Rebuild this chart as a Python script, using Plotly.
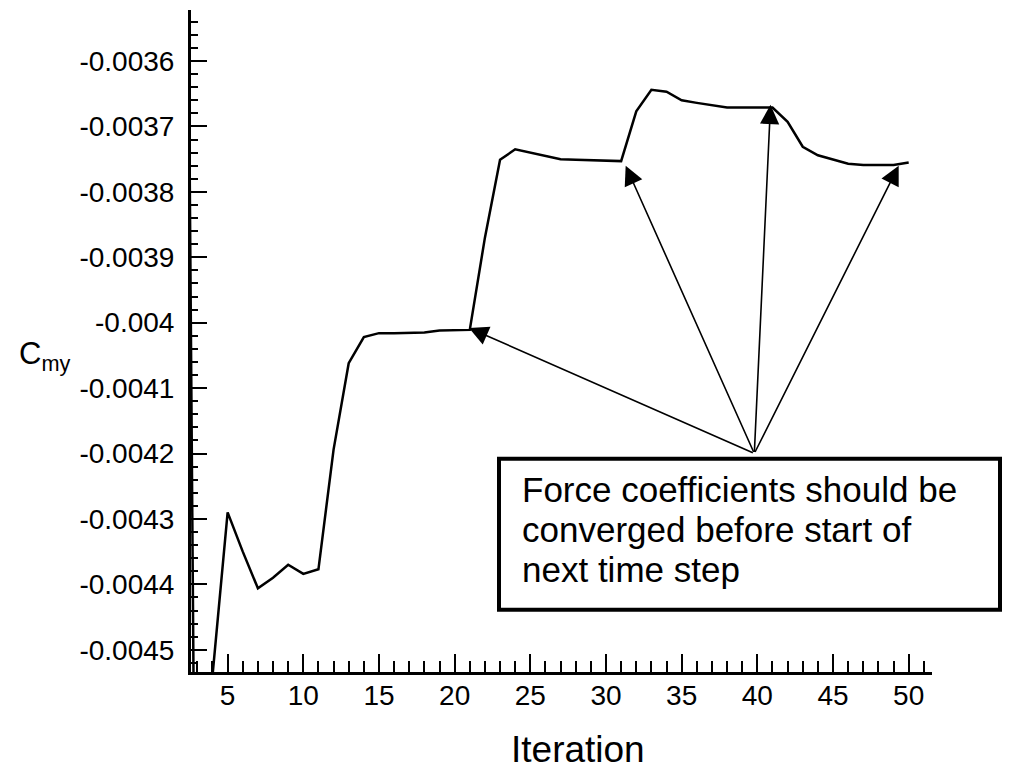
import plotly.graph_objects as go

# ---------------- data ----------------
iterations = list(range(2, 51))
cmy = [
    -0.00225, -0.00532, -0.00454, -0.00429, -0.00435, -0.004406, -0.00439, -0.00437,
    -0.004384, -0.004377, -0.004194, -0.004062, -0.004022, -0.004016, -0.004016,
    -0.004016, -0.004015, -0.004012, -0.004012, -0.004011, -0.00387, -0.003751,
    -0.003735, -0.00374, -0.003746, -0.00375, -0.003751, -0.003752, -0.003753,
    -0.003753, -0.003677, -0.003644, -0.003647, -0.00366, -0.003664, -0.003668,
    -0.003671, -0.003671, -0.003671, -0.003671, -0.003693, -0.003731, -0.003744,
    -0.003751, -0.003757, -0.003759, -0.003759, -0.003759, -0.003755,
]

x_tick_vals = [5, 10, 15, 20, 25, 30, 35, 40, 45, 50]
x_tick_text = ["5", "10", "15", "20", "25", "30", "35", "40", "45", "50"]
y_tick_vals = [-0.0036, -0.0037, -0.0038, -0.0039, -0.004, -0.0041,
               -0.0042, -0.0043, -0.0044, -0.0045]
y_tick_text = ["-0.0036", "-0.0037", "-0.0038", "-0.0039", "-0.004", "-0.0041",
               "-0.0042", "-0.0043", "-0.0044", "-0.0045"]

# arrows: common origin and the four converged points they point to
arrow_origin = (39.8, -0.0042)
arrow_tips_x = [20.95, 31.3, 40.87, 49.34]
arrow_tips_y = [-0.004008, -0.00376, -0.003667, -0.00376]

note_lines = ["Force coefficients should be",
              "converged before start of",
              "next time step"]

# ---------------- layout helpers ----------------
W, H = 1010, 770
ML, MR, MT, MB = 191, 78, 10, 98
PW, PH = W - ML - MR, H - MT - MB


def px_x(p):
    return (p - ML) / PW


def px_y(p):
    return (H - MB - p) / PH


FONT = "Liberation Sans, Arial, sans-serif"

fig = go.Figure()
fig.add_trace(go.Scatter(
    x=iterations, y=cmy, mode="lines",
    line=dict(color="black", width=2.5),
    showlegend=False, hoverinfo="skip",
))

axis_common = dict(
    showgrid=False, zeroline=False, showline=True, linecolor="black",
    linewidth=3, ticks="inside", tickcolor="black", mirror=False,
    tickfont=dict(family=FONT, size=28, color="black"),
)

fig.update_xaxes(
    range=[2.58, 51.54], tickmode="array", tickvals=x_tick_vals,
    ticktext=x_tick_text, ticklen=18, tickwidth=2, ticklabelstandoff=-4,
    minor=dict(ticks="inside", dtick=1, tick0=0, ticklen=11, tickwidth=1.5,
               tickcolor="black"),
    **axis_common,
)
fig.update_yaxes(
    range=[-0.004534, -0.003522], tickmode="array", tickvals=y_tick_vals,
    ticktext=y_tick_text, ticklen=16, tickwidth=2, ticklabelstandoff=8,
    minor=dict(ticks="inside", dtick=0.00002, tick0=-0.0036, ticklen=7,
               tickwidth=1.5, tickcolor="black"),
    **axis_common,
)

annotations = []
for tx, ty in zip(arrow_tips_x, arrow_tips_y):
    annotations.append(dict(
        x=tx, y=ty, xref="x", yref="y",
        ax=arrow_origin[0], ay=arrow_origin[1], axref="x", ayref="y",
        text="", showarrow=True, arrowhead=2, arrowsize=2.4, arrowwidth=1.6,
        arrowcolor="black", standoff=0, startstandoff=0,
    ))

# note text lines
for i, line in enumerate(note_lines):
    annotations.append(dict(
        x=px_x(520), y=px_y(489.6 + 40 * i), xref="paper", yref="paper",
        xanchor="left", yanchor="middle", showarrow=False, text=line,
        font=dict(family=FONT, size=35, color="black"),
    ))

# axis titles
annotations.append(dict(
    x=px_x(578), y=px_y(749), xref="paper", yref="paper",
    xanchor="center", yanchor="middle", showarrow=False, text="Iteration",
    font=dict(family=FONT, size=37, color="black"),
))
annotations.append(dict(
    x=px_x(17), y=px_y(356), xref="paper", yref="paper",
    xanchor="left", yanchor="middle", showarrow=False,
    text="C<sub>my</sub>",
    font=dict(family=FONT, size=31, color="black"),
))

shapes = [dict(
    type="rect", xref="paper", yref="paper",
    x0=px_x(499), x1=px_x(1000), y0=px_y(609.7), y1=px_y(458.7),
    line=dict(color="black", width=4), fillcolor="white", layer="above",
)]

fig.update_layout(
    width=W, height=H,
    margin=dict(l=ML, r=MR, t=MT, b=MB, pad=0),
    paper_bgcolor="white", plot_bgcolor="white",
    annotations=annotations, shapes=shapes,
    showlegend=False,
)

fig.write_html("out.html")
